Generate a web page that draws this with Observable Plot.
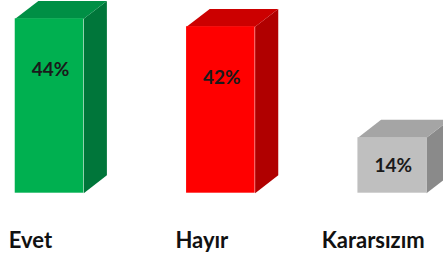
<!DOCTYPE html>
<html>
<head>
<meta charset="utf-8">
<script src="https://cdn.jsdelivr.net/npm/d3@7"></script>
<script src="https://cdn.jsdelivr.net/npm/@observablehq/plot@0.6"></script>
<style>
  html, body { margin: 0; padding: 0; background: #fff; overflow: hidden; }
</style>
</head>
<body>
<div id="chart"></div>
<script>
const categories = ["Evet", "Hayır", "Kararsızım"];
const values = [44, 42, 14];
const valueLabels = ["44%", "42%", "14%"];
const frontColors = ["#00b050", "#ff0000", "#bfbfbf"];
const sideColors = ["#00763a", "#b00000", "#8a8a8a"];
const topColors = ["#008f45", "#cc0000", "#a5a5a5"];

// geometry (data units): half-width of bar and 3D depth offsets
const halfW = 0.2;
const depthX = 0.135;   // in x units
const depthY = 4.5;     // in y units

const bars = categories.map((c, i) => ({ i, c, v: values[i], label: valueLabels[i] }));

const tops = [], sides = [];
bars.forEach(d => {
  const l = d.i - halfW, r = d.i + halfW;
  [[l, d.v], [r, d.v], [r + depthX, d.v + depthY], [l + depthX, d.v + depthY]]
    .forEach(([x, y]) => tops.push({ x, y, i: d.i }));
  [[r, 0], [r, d.v], [r + depthX, d.v + depthY], [r + depthX, depthY]]
    .forEach(([x, y]) => sides.push({ x, y, i: d.i }));
});

const chart = Plot.plot({
  width: 443,
  height: 259,
  margin: 0,
  x: { domain: [0, 2], range: [49, 391.7], axis: null },
  y: { domain: [0, 44], range: [192.7, 18.3], axis: null },
  style: { background: "#fff" },
  marks: [
    Plot.line(sides, { x: "x", y: "y", z: "i", fill: d => sideColors[d.i], stroke: "none", curve: "linear-closed" }),
    Plot.line(tops, { x: "x", y: "y", z: "i", fill: d => topColors[d.i], stroke: "none", curve: "linear-closed" }),
    Plot.rect(bars, { x1: d => d.i - halfW, x2: d => d.i + halfW, y1: 0, y2: "v", fill: d => frontColors[d.i], inset: 0 }),
    Plot.text(bars, {
      x: "i", y: d => Math.max(d.v - 13, d.v / 2), text: "label",
      fontFamily: "Lato", fontWeight: "bold", fontSize: 19, fill: "#1a1a1a", dx: 1
    }),
    Plot.text(bars, {
      x: "i", y: 0, text: "c", dy: 48, dx: -19,
      fontFamily: "Lato", fontWeight: "bold", fontSize: 22, fill: "#111"
    })
  ]
});
document.getElementById("chart").appendChild(chart);
</script>
</body>
</html>
